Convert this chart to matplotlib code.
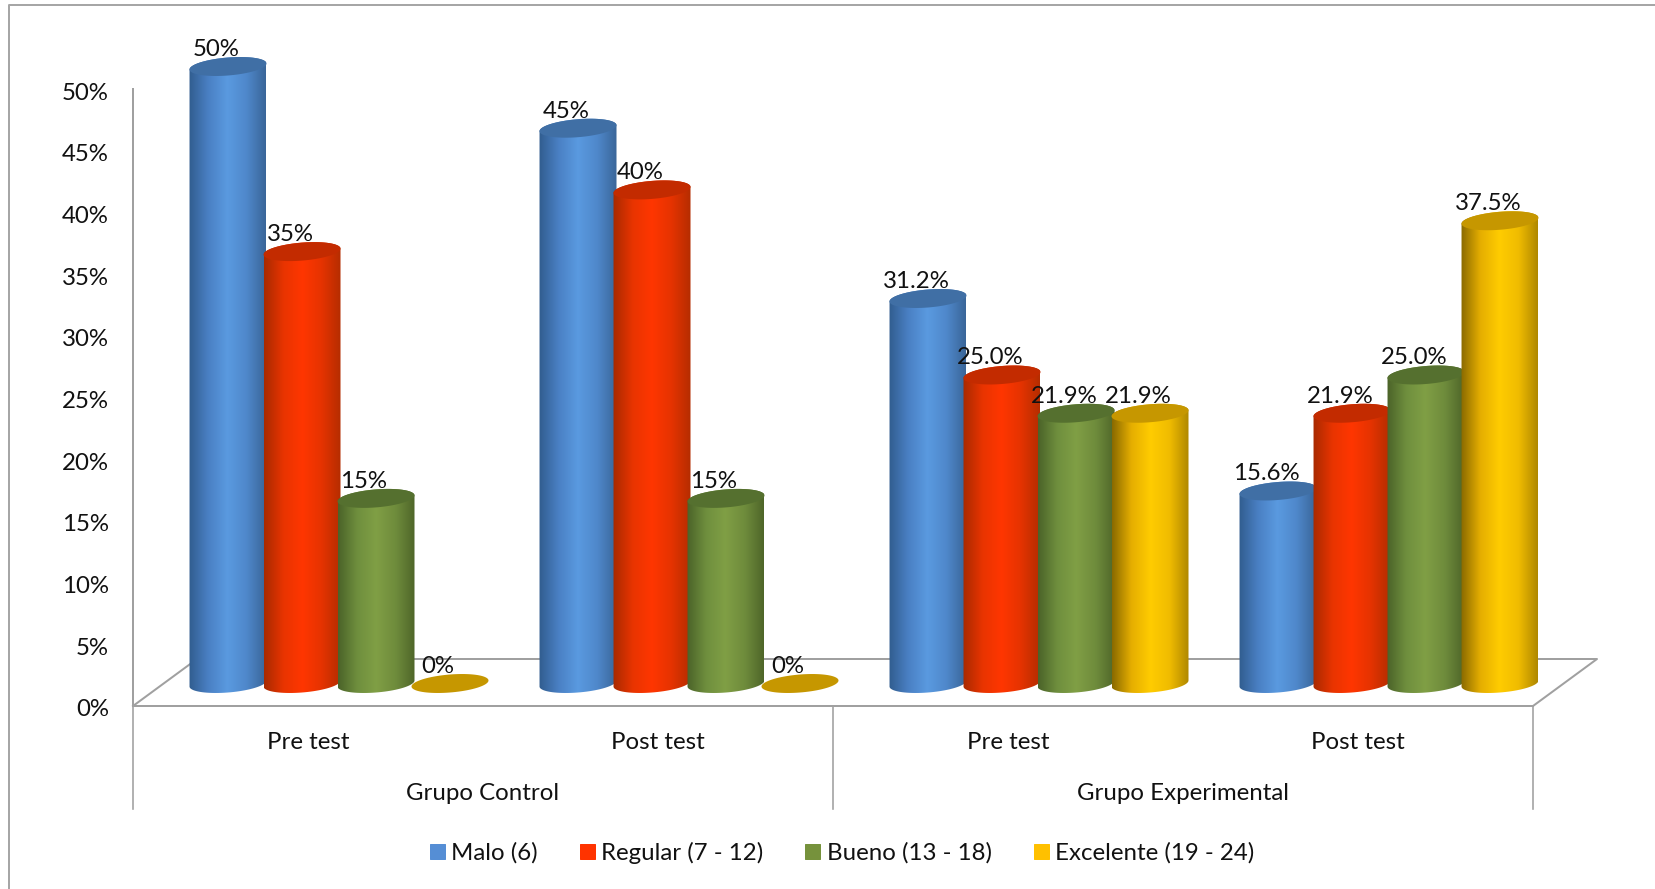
import matplotlib

matplotlib.use("Agg")
import matplotlib.pyplot as plt
import numpy as np
from matplotlib.colors import LinearSegmentedColormap
from matplotlib.lines import Line2D
from matplotlib.patches import Patch, PathPatch, Polygon
from matplotlib.path import Path
from matplotlib.transforms import ScaledTranslation

plt.rcParams["font.family"] = ["Lato", "DejaVu Sans"]

tests = ["Pre test", "Post test", "Pre test", "Post test"]
groups = ["Grupo Control", "Grupo Experimental"]
y_ticks = [0, 5, 10, 15, 20, 25, 30, 35, 40, 45, 50]

series_names = ["Malo (6)", "Regular (7 - 12)", "Bueno (13 - 18)", "Excelente (19 - 24)"]
malo = [50, 45, 31.2, 15.6]
regular = [35, 40, 25.0, 21.9]
bueno = [15, 15, 21.9, 25.0]
excelente = [0, 0, 21.9, 37.5]
label_formats = ["{:.0f}%", "{:.0f}%", "{:.1f}%", "{:.1f}%"]

legend_colors = ["#558ED5", "#FF3300", "#76923C", "#FFC000"]
cap_colors = ["#406FA5", "#C32B00", "#55702F", "#C69700"]
ramps = [
    ["#315D8F", "#4A80C4", "#5A9AE0", "#4F88CB", "#3A6699"],
    ["#A82A00", "#E83400", "#FF3600", "#E63300", "#B52D00"],
    ["#4B6329", "#6F8F3E", "#809F45", "#6F8C3C", "#4F6629"],
    ["#8A6A00", "#E5AE00", "#FFCC00", "#F0BC00", "#B08800"],
]
GRAY = "#A0A0A0"
FONT = 24

# plot frame in pixels of the 1655x889 picture (dpi 72, so 1pt = 1px)
W, H = 1655, 889
LEFT, RIGHT, Y0, Y50 = 133, 1533, 706, 89
PX_X = (RIGHT - LEFT) / len(tests)
PX_Y = (Y0 - Y50) / 50


def ellipse(cx, cy, t):
    # tilted cylinder end, right side sits higher than left
    a, b, s = 38.5 / PX_X, 9 / PX_Y, 3 / PX_Y
    return cx + a * np.cos(t), cy + b * np.sin(t) + s * np.cos(t)


def draw_cylinder(ax, cx, base, value, ramp, cap):
    z = 3 + cx
    t = np.linspace(0, 2 * np.pi, 80)
    if value > 0:
        bx, by = ellipse(cx, base, t[40:])
        tx, ty = ellipse(cx, base + value, t[:41])
        xy = np.column_stack([np.r_[bx, tx], np.r_[by, ty]])
        body = PathPatch(Path(np.r_[xy, xy[:1]], closed=True), fc="none", ec="none", zorder=z)
        ax.add_patch(body)
        cmap = LinearSegmentedColormap.from_list("cyl", ramp)
        half = 38.5 / PX_X
        im = ax.imshow(
            np.linspace(0, 1, 128)[None, :],
            cmap=cmap,
            extent=(cx - half, cx + half, base - 2, base + value + 2),
            aspect="auto",
            zorder=z,
        )
        im.set_clip_box(ax.figure.bbox)
        im.set_clip_path(body)
    ex, ey = ellipse(cx, base + value, t)
    ax.add_patch(Polygon(np.column_stack([ex, ey]), fc=cap, ec="none", zorder=z + 0.01, clip_on=False))


fig = plt.figure(figsize=(W / 72, H / 72), dpi=72)
ax = fig.add_axes([LEFT / W, 1 - Y0 / H, (RIGHT - LEFT) / W, (Y0 - Y50) / H])

# outer chart border, only top and left show in the crop
fig.add_artist(Line2D([9 / W, 9 / W, 1], [0, 1 - 5 / H, 1 - 5 / H], color="#A6A6A6", lw=2))

# floor of the 3D box
depth_x, depth_y = 64 / PX_X, 47 / PX_Y
n = len(tests)
ax.plot([0, depth_x, n + depth_x, n], [0, depth_y, depth_y, 0], color=GRAY, lw=2, clip_on=False, zorder=1)

# bars stand in the middle of the floor
spacing = 74 / PX_X
bar_dx, bar_dy = 31 / PX_X, 22.5 / PX_Y
all_series = [malo, regular, bueno, excelente]
for i, values in enumerate(all_series):
    for j, value in enumerate(values):
        cx = j + 0.5 + bar_dx + (i - 1.5) * spacing
        draw_cylinder(ax, cx, bar_dy, value, ramps[i], cap_colors[i])
        ax.annotate(
            label_formats[j].format(value),
            (cx, bar_dy + value),
            xytext=(-12, 17),
            textcoords="offset points",
            ha="center",
            va="center",
            fontsize=FONT,
            color="#111111",
            zorder=20,
            annotation_clip=False,
        )

ax.set_xlim(0, n)
ax.set_ylim(0, 50)
ax.patch.set_alpha(0)
for side in ["top", "right"]:
    ax.spines[side].set_visible(False)
for side in ["left", "bottom"]:
    ax.spines[side].set_color(GRAY)
    ax.spines[side].set_linewidth(2)

ax.set_yticks(y_ticks)
ax.set_yticklabels([f"{v}%" for v in y_ticks], fontsize=FONT, color="#111111")
ax.tick_params(axis="y", length=0, pad=24)
nudge = ScaledTranslation(0, -2 / 72, fig.dpi_scale_trans)
for label in ax.get_yticklabels():
    label.set_transform(label.get_transform() + nudge)
ax.set_xticks(np.arange(n) + 0.5)
ax.set_xticklabels(tests, fontsize=FONT, color="#111111")
ax.tick_params(axis="x", length=0, pad=26)

# multi level category axis: dividers and group names under the tests
for x in [0, n / 2, n]:
    ax.plot([x, x], [0, -103 / (Y0 - Y50)], transform=ax.get_xaxis_transform(), color=GRAY, lw=1.6, clip_on=False)
for k, group in enumerate(groups):
    ax.annotate(
        group,
        (k * n / 2 + n / 4, 0),
        xycoords=ax.get_xaxis_transform(),
        xytext=(0, -87),
        textcoords="offset points",
        ha="center",
        va="center",
        fontsize=FONT,
        color="#111111",
    )

handles = [Patch(color=c, label=name) for c, name in zip(legend_colors, series_names)]
fig.legend(
    handles=handles,
    loc="center",
    bbox_to_anchor=(842 / W, 1 - 853 / H),
    ncol=4,
    frameon=False,
    fontsize=FONT,
    labelcolor="#111111",
    handlelength=0.63,
    handleheight=0.63,
    handletextpad=0.26,
    columnspacing=1.75,
    borderpad=0,
)

fig.savefig("out.png", dpi=72, facecolor="white")
plt.close(fig)
